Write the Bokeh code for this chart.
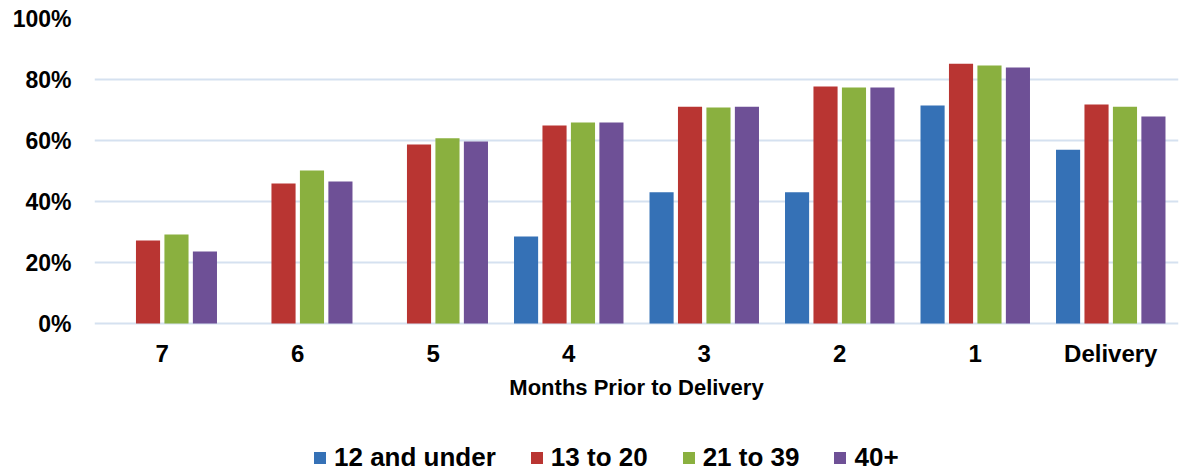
from bokeh.plotting import figure
from bokeh.models import (ColumnDataSource, FactorRange, Range1d, FixedTicker,
                          PrintfTickFormatter, Legend, LegendItem)
from bokeh.transform import dodge
from bokeh.embed import file_html
from bokeh.resources import INLINE

nan = float("nan")

# ---- data ----
months = ["7", "6", "5", "4", "3", "2", "1", "Delivery"]
series_names = ["12 and under", "13 to 20", "21 to 39", "40+"]
age_12_under = [nan, nan, nan, 28.5, 43.0, 43.0, 71.5, 57.0]
age_13_20 = [27.2, 45.9, 58.7, 64.9, 71.1, 77.7, 85.2, 71.8]
age_21_39 = [29.2, 50.2, 60.7, 65.9, 70.8, 77.4, 84.6, 71.1]
age_40_plus = [23.6, 46.6, 59.7, 65.9, 71.1, 77.4, 83.9, 67.9]
y_ticks = [0, 20, 40, 60, 80, 100]

colors = ["#3571B6", "#B93532", "#8AB03F", "#6E5096"]
offsets = [-0.315, -0.105, 0.105, 0.315]
keys = ["s0", "s1", "s2", "s3"]

source = ColumnDataSource(data=dict(
    months=months, s0=age_12_under, s1=age_13_20, s2=age_21_39, s3=age_40_plus))

FONT = "Liberation Sans"

# frame spans the whole height below the top border; the 0% line sits at 305 px
# below the 100% line, leaving room for the axis labels and the legend under it
p = figure(x_range=FactorRange(*months, range_padding=0),
           y_range=Range1d(-49.5, 100),
           width=1179, height=474,
           min_border_left=94, min_border_right=1,
           min_border_top=18, min_border_bottom=0,
           output_backend="svg", toolbar_location=None)

renderers = []
for k, c, off in zip(keys, colors, offsets):
    r = p.vbar(x=dodge("months", off, range=p.x_range), top=k, bottom=0,
               width=0.178, source=source, fill_color=c, line_color=None)
    renderers.append(r)

p.outline_line_color = None
p.xgrid.grid_line_color = None
p.ygrid.grid_line_color = "#D5E1F0"
p.ygrid.grid_line_width = 2
p.ygrid.ticker = FixedTicker(ticks=y_ticks)

p.yaxis.ticker = FixedTicker(ticks=y_ticks)
p.yaxis.formatter = PrintfTickFormatter(format="%d%%")
p.yaxis.axis_line_color = None
p.yaxis.major_tick_line_color = None
p.yaxis.minor_tick_line_color = None
p.yaxis.major_label_standoff = 17
p.yaxis.major_label_text_font = FONT
p.yaxis.major_label_text_font_style = "bold"
p.yaxis.major_label_text_font_size = "23px"
p.yaxis.major_label_text_color = "#000000"

p.xaxis.fixed_location = 0
p.xaxis.axis_line_color = None
p.xaxis.major_tick_line_color = None
p.xaxis.minor_tick_line_color = None
p.xaxis.major_label_standoff = 10
p.xaxis.major_label_text_font = FONT
p.xaxis.major_label_text_font_style = "bold"
p.xaxis.major_label_text_font_size = "24px"
p.xaxis.major_label_text_color = "#000000"
p.xaxis.axis_label = "Months Prior to Delivery"
p.xaxis.axis_label_standoff = 5
p.xaxis.axis_label_text_font = FONT
p.xaxis.axis_label_text_font_style = "bold"
p.xaxis.axis_label_text_font_size = "22px"
p.xaxis.axis_label_text_color = "#000000"

legend = Legend(items=[LegendItem(label=n, renderers=[r]) for n, r in zip(series_names, renderers)],
                orientation="horizontal", location=(218, 1),
                padding=0, margin=0, spacing=33,
                glyph_width=15, glyph_height=15, label_standoff=7,
                label_text_font=FONT, label_text_font_style="bold",
                label_text_font_size="26px", label_text_color="#000000",
                border_line_color=None, background_fill_alpha=0)
p.add_layout(legend, "center")

open("out.html", "w").write(file_html(p, INLINE))
